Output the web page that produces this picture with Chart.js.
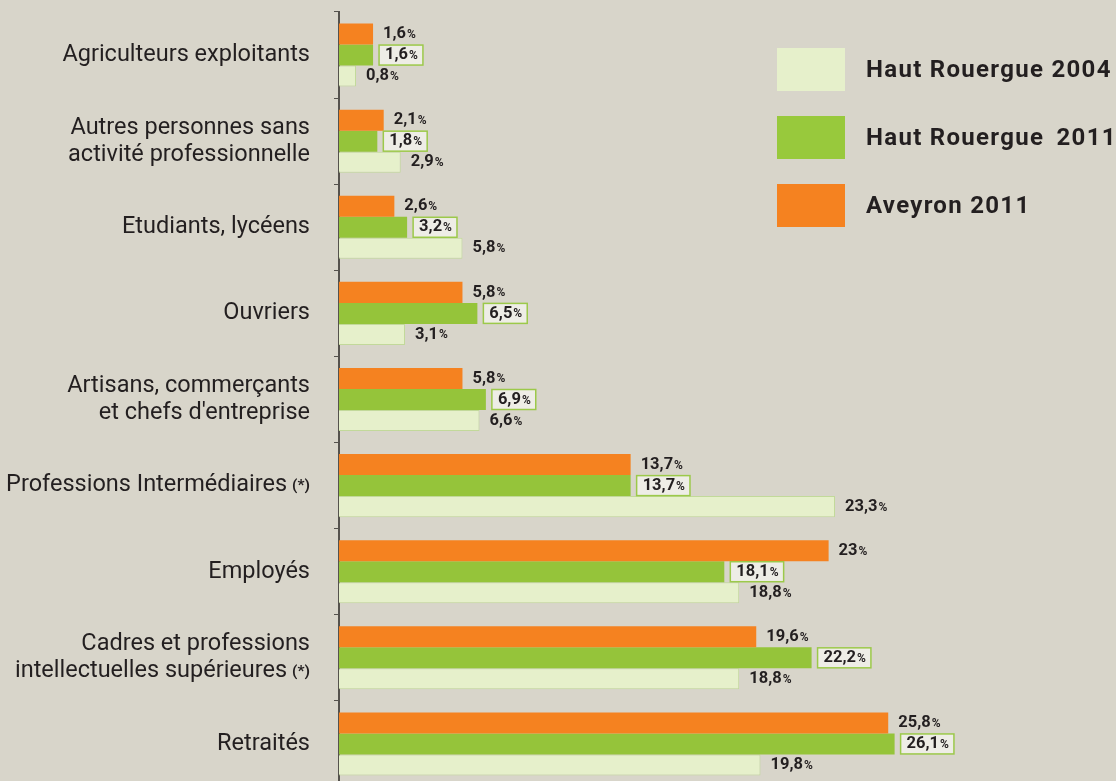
<!DOCTYPE html>
<html>
<head>
<meta charset="utf-8">
<script src="https://cdn.jsdelivr.net/npm/chart.js@4"></script>
<style>
    html, body { margin: 0; padding: 0; background: #d8d5ca; overflow: hidden; }
    #wrap { position: absolute; left: 0; top: 0; width: 1116px; height: 787px; }
    .legend-item { position: absolute; left: 777px; height: 43px; }
    .legend-item span.box { position: absolute; left: 0; top: 0; width: 68px; height: 43px; }
    .legend-item span.txt { position: absolute; left: 89px; top: 0; line-height: 43px; white-space: nowrap;
        font-family: Roboto, sans-serif; font-weight: bold; font-size: 24px; color: #231f20; letter-spacing: 1.3px; }
</style>
</head>
<body>
<div id="wrap">
    <canvas id="chart" width="1116" height="787"></canvas>
    <div class="legend-item" style="top:48px"><span class="box" style="background:#e6f0cb"></span><span class="txt">Haut Rouergue 2004</span></div>
    <div class="legend-item" style="top:116px"><span class="box" style="background:#98c93c"></span><span class="txt">Haut Rouergue <span style="margin-left:5px">2011</span></span></div>
    <div class="legend-item" style="top:184px"><span class="box" style="background:#f58220"></span><span class="txt">Aveyron 2011</span></div>
</div>
<script>
const categories = [
    ['Agriculteurs exploitants'],
    ['Autres personnes sans', 'activité professionnelle'],
    ['Etudiants, lycéens'],
    ['Ouvriers'],
    ['Artisans, commerçants', "et chefs d'entreprise"],
    ['Professions Intermédiaires (*)'],
    ['Employés'],
    ['Cadres et professions', 'intellectuelles supérieures (*)'],
    ['Retraités']
];
const aveyron2011 = [1.6, 2.1, 2.6, 5.8, 5.8, 13.7, 23, 19.6, 25.8];
const hautRouergue2011 = [1.6, 1.8, 3.2, 6.5, 6.9, 13.7, 18.1, 22.2, 26.1];
const hautRouergue2004 = [0.8, 2.9, 5.8, 3.1, 6.6, 23.3, 18.8, 18.8, 19.8];

const textColor = '#231f20';

// value labels after each bar, green series gets a framed box
const valueLabels = {
    id: 'valueLabels',
    afterDatasetsDraw(chart) {
        const ctx = chart.ctx;
        chart.data.datasets.forEach((ds, i) => {
            const meta = chart.getDatasetMeta(i);
            meta.data.forEach((bar, j) => {
                const num = ds.data[j].toString().replace('.', ',');
                ctx.save();
                ctx.textBaseline = 'middle';
                ctx.font = 'bold 16.5px Roboto, sans-serif';
                const w1 = ctx.measureText(num).width;
                ctx.font = 'bold 12px Roboto, sans-serif';
                const w2 = ctx.measureText('%').width;
                let x = bar.x + 10;
                const y = bar.y;
                if (i === 1) {
                    x = bar.x + 12;
                    ctx.fillStyle = '#eeede6';
                    ctx.strokeStyle = '#9cc94a';
                    ctx.lineWidth = 1.5;
                    ctx.fillRect(x - 6, y - 10, w1 + w2 + 12, 20);
                    ctx.strokeRect(x - 6, y - 10, w1 + w2 + 12, 20);
                }
                ctx.fillStyle = textColor;
                ctx.font = 'bold 16.5px Roboto, sans-serif';
                ctx.fillText(num, x, y);
                ctx.font = 'bold 12px Roboto, sans-serif';
                ctx.fillText('%', x + w1 + 1, y + 1);
                ctx.restore();
            });
        });
    }
};

// category labels drawn by hand so that "(*)" can be smaller and bold
const categoryLabels = {
    id: 'categoryLabels',
    afterDraw(chart) {
        const ctx = chart.ctx;
        const yScale = chart.scales.y;
        const right = 310;
        const lineH = 27;
        ctx.save();
        ctx.fillStyle = textColor;
        ctx.textBaseline = 'middle';
        ctx.textAlign = 'right';
        categories.forEach((lines, i) => {
            const yc = yScale.getPixelForTick(i);
            const y0 = yc - (lines.length - 1) * lineH / 2;
            lines.forEach((line, k) => {
                const y = y0 + k * lineH;
                if (line.endsWith(' (*)')) {
                    ctx.font = 'bold 15.5px Roboto, sans-serif';
                    const ws = ctx.measureText('(*)').width;
                    ctx.fillText('(*)', right, y + 1);
                    ctx.font = '23.5px Roboto, sans-serif';
                    ctx.fillText(line.slice(0, -4), right - ws - 5, y);
                } else {
                    ctx.font = '23.5px Roboto, sans-serif';
                    ctx.fillText(line, right, y);
                }
            });
        });
        ctx.restore();
    }
};

new Chart(document.getElementById('chart'), {
    type: 'bar',
    data: {
        labels: categories,
        datasets: [
            { label: 'Aveyron 2011', data: aveyron2011, backgroundColor: '#f58220', borderWidth: 0 },
            { label: 'Haut Rouergue 2011', data: hautRouergue2011, backgroundColor: '#95c43a', borderWidth: 0 },
            { label: 'Haut Rouergue 2004', data: hautRouergue2004, backgroundColor: '#e6f0cb', borderColor: '#c2d99a', borderWidth: 1 }
        ]
    },
    options: {
        indexAxis: 'y',
        responsive: false,
        animation: false,
        layout: { padding: { top: 12, right: 0, bottom: 0, left: 0 } },
        datasets: { bar: { categoryPercentage: 0.732, barPercentage: 1 } },
        plugins: { legend: { display: false }, tooltip: { enabled: false } },
        scales: {
            x: { display: false, min: 0, max: 36.5 },
            y: {
                afterFit(scale) {
                    scale.width = 339;
                    scale.paddingTop = 0;
                    scale.paddingBottom = 0;
                },
                border: { display: true, color: '#55524d', width: 2 },
                grid: { drawOnChartArea: false, tickLength: 5, color: '#55524d', offset: true },
                ticks: { display: false }
            }
        }
    },
    plugins: [valueLabels, categoryLabels]
});
</script>
</body>
</html>
